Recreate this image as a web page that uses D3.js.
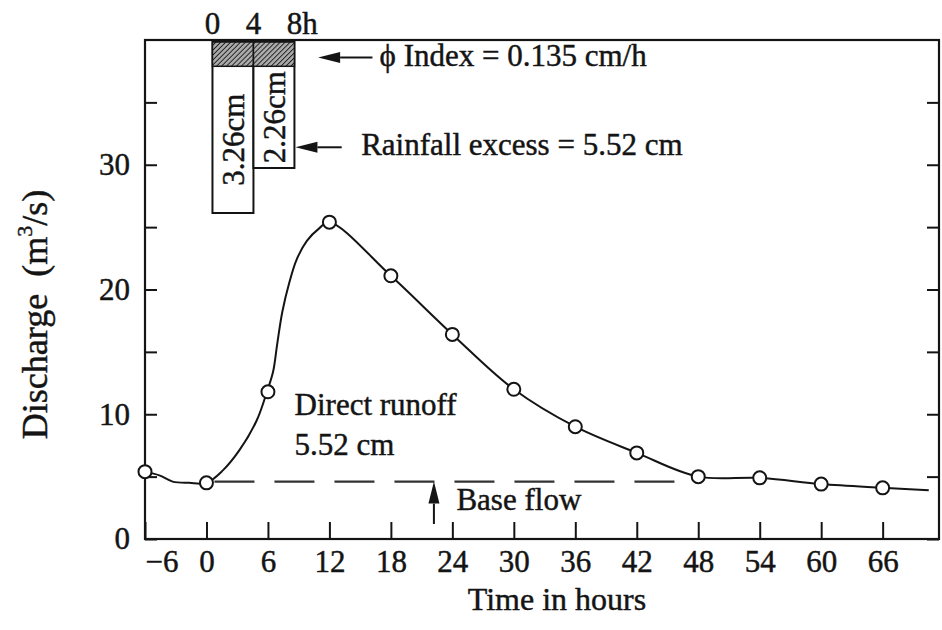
<!DOCTYPE html>
<html>
<head>
<meta charset="utf-8">
<script src="https://cdn.jsdelivr.net/npm/d3@7"></script>
<style>
  body { margin: 0; background: #fff; }
  svg { display: block; font-family: "Liberation Serif", "Times New Roman", serif; }
  svg text { stroke: #141414; stroke-width: 0.45px; }
</style>
</head>
<body>
<svg id="chart"></svg>
<script>
const width = 942, height = 630;

// observed hydrograph ordinates (circles), every 6 h
const hours = [-6, 0, 6, 12, 18, 24, 30, 36, 42, 48, 54, 60, 66];
const discharge = [5.4, 4.5, 11.8, 25.4, 21.1, 16.4, 12.0, 9.0, 6.9, 5.0, 4.9, 4.4, 4.1];

// the drawn hydrograph curve
const curveHours = [-6, -4.6, -3.3, -1.7, 0, 1.6, 3.2, 4.9, 5.9, 6.5, 6.9, 7.4, 8.1, 8.8, 9.8, 11.0, 12, 18, 24, 30, 36, 42, 48, 54, 60, 66, 70.5];
const curveQ = [5.4, 5.1, 4.6, 4.5, 4.5, 5.5, 7.1, 9.5, 11.8, 13.4, 15.6, 18.2, 20.6, 22.4, 23.9, 24.9, 25.4, 21.1, 16.4, 12.0, 9.0, 6.9, 5.0, 4.9, 4.4, 4.1, 3.9];

const baseFlow = 4.6;
const baseFlowEnd = 48;

// hyetograph: two 4-h blocks
const rainStart = [0, 4];
const rainEnd = [4, 8];
const rainExcess = [3.26, 2.26];
const phiIndex = 0.135; // cm/h
const rainTicks = [0, 4, 8];

const xTicks = [-6, 0, 6, 12, 18, 24, 30, 36, 42, 48, 54, 60, 66];
const yTicks = [0, 5, 10, 15, 20, 25, 30, 35];

const margin = { top: 40, right: 3, bottom: 91, left: 145 };

const svg = d3.select("#chart").attr("width", width).attr("height", height);
svg.append("rect").attr("width", width).attr("height", height).attr("fill", "#fff");

const x = d3.scaleLinear().domain([-6, 71.5]).range([margin.left, width - margin.right]);
const y = d3.scaleLinear().domain([0, 40]).range([height - margin.bottom, margin.top]);

const ink = "#141414";
const fs = 31;

// hatching for the phi-index loss
const defs = svg.append("defs");
const pat = defs.append("pattern")
    .attr("id", "hatch").attr("patternUnits", "userSpaceOnUse")
    .attr("width", 3.5).attr("height", 3.5)
    .attr("patternTransform", "rotate(45)");
pat.append("rect").attr("width", 3.5).attr("height", 3.5).attr("fill", "#aaa");
pat.append("line").attr("x1", 0).attr("y1", 0).attr("x2", 0).attr("y2", 3.5)
    .attr("stroke", "#1a1a1a").attr("stroke-width", 1.8);

// line with a filled head at (x2, y2)
const arrow = (x1, y1, x2, y2) => {
    const a = Math.atan2(y2 - y1, x2 - x1);
    const len = 22, hw = 5.5;
    const bx = x2 - len * Math.cos(a), by = y2 - len * Math.sin(a);
    const g = svg.append("g");
    g.append("line")
        .attr("x1", x1).attr("y1", y1).attr("x2", bx).attr("y2", by)
        .attr("stroke", ink).attr("stroke-width", 2);
    g.append("path")
        .attr("d", `M${x2},${y2} L${bx - hw * Math.sin(a)},${by + hw * Math.cos(a)} L${bx + hw * Math.sin(a)},${by - hw * Math.cos(a)} Z`)
        .attr("fill", ink);
};

// axes (inward ticks)
const xAxis = g => g
    .attr("transform", `translate(0,${y(0)})`)
    .call(d3.axisBottom(x).tickValues(xTicks).tickSizeInner(-17).tickSizeOuter(0).tickPadding(11))
    .attr("font-family", null)
    .call(g => g.select(".domain").remove())
    .call(g => g.selectAll(".tick line").attr("stroke", ink).attr("stroke-width", 2))
    .call(g => g.selectAll(".tick text").attr("fill", ink).attr("font-size", fs)
        .attr("text-anchor", d => d < 0 ? "start" : "middle"));

const yAxis = g => g
    .attr("transform", `translate(${x(-6)},0)`)
    .call(d3.axisLeft(y).tickValues(yTicks).tickSizeInner(-12).tickSizeOuter(0).tickPadding(15)
        .tickFormat(d => d % 10 === 0 ? d : ""))
    .attr("font-family", null)
    .call(g => g.select(".domain").remove())
    .call(g => g.selectAll(".tick line").attr("stroke", ink).attr("stroke-width", 2))
    .call(g => g.selectAll(".tick text").attr("fill", ink).attr("font-size", fs));

const yAxisRight = g => g
    .attr("transform", `translate(${x(71.5)},0)`)
    .call(d3.axisRight(y).tickValues(yTicks).tickSizeInner(-12).tickSizeOuter(0).tickFormat(""))
    .call(g => g.select(".domain").remove())
    .call(g => g.selectAll(".tick line").attr("stroke", ink).attr("stroke-width", 2));

svg.append("g").call(xAxis);
svg.append("g").call(yAxis);
svg.append("g").call(yAxisRight);

// frame
svg.append("rect")
    .attr("x", x(-6)).attr("y", y(40))
    .attr("width", x(71.5) - x(-6)).attr("height", y(0) - y(40))
    .attr("fill", "none").attr("stroke", ink).attr("stroke-width", 2.2);

// axis titles
svg.append("text")
    .attr("x", (x(-6) + x(71.5)) / 2 + 15).attr("y", y(0) + 71)
    .attr("text-anchor", "middle").attr("font-size", fs + 1).attr("fill", ink)
    .text("Time in hours");

const yTitle = svg.append("text")
    .attr("transform", `translate(47,${(y(0) + y(40)) / 2 + 25}) rotate(-90)`)
    .attr("text-anchor", "middle").attr("font-size", 36).attr("fill", ink);
yTitle.append("tspan").text("Discharge");
yTitle.append("tspan").attr("dx", 17).text("(m");
yTitle.append("tspan").attr("font-size", 22).attr("dy", -15).text("3");
yTitle.append("tspan").attr("dy", 15).text("/s)");

// base flow (dashed)
svg.append("line")
    .attr("x1", x(0)).attr("x2", x(baseFlowEnd))
    .attr("y1", y(baseFlow)).attr("y2", y(baseFlow))
    .attr("stroke", "#333").attr("stroke-width", 2.2)
    .attr("stroke-dasharray", "40,20").attr("stroke-dashoffset", -8);

// hydrograph curve
const line = d3.line()
    .x((d, i) => x(curveHours[i]))
    .y(d => y(d))
    .curve(d3.curveCatmullRom.alpha(0.5));

svg.append("path")
    .datum(curveQ)
    .attr("d", line)
    .attr("fill", "none").attr("stroke", ink).attr("stroke-width", 2);

svg.append("g").selectAll("circle")
    .data(discharge)
    .join("circle")
    .attr("cx", (d, i) => x(hours[i]))
    .attr("cy", d => y(d))
    .attr("r", 6.5)
    .attr("fill", "#fff").attr("stroke", ink).attr("stroke-width", 2);

// hyetograph (hangs from the top of the frame)
const rainX = d3.scaleLinear().domain([0, 8]).range([x(0) + 6, x(8) + 6]);
const depth = d3.scaleLinear().domain([0, 4]).range([y(40) + 2, y(40) + 182]);
const loss = phiIndex * 4;

const hy = svg.append("g");
hy.selectAll("rect.bar")
    .data(rainExcess)
    .join("rect").attr("class", "bar")
    .attr("x", (d, i) => rainX(rainStart[i]))
    .attr("y", depth(0))
    .attr("width", (d, i) => rainX(rainEnd[i]) - rainX(rainStart[i]))
    .attr("height", d => depth(d + loss) - depth(0))
    .attr("fill", "#fff").attr("stroke", ink).attr("stroke-width", 2);

hy.selectAll("rect.loss")
    .data(rainExcess)
    .join("rect").attr("class", "loss")
    .attr("x", (d, i) => rainX(rainStart[i]))
    .attr("y", depth(0))
    .attr("width", (d, i) => rainX(rainEnd[i]) - rainX(rainStart[i]))
    .attr("height", depth(loss) - depth(0))
    .attr("fill", "url(#hatch)").attr("stroke", ink).attr("stroke-width", 1.5);

hy.selectAll("text.val")
    .data(rainExcess)
    .join("text").attr("class", "val")
    .attr("transform", (d, i) => `translate(${(rainX(rainStart[i]) + rainX(rainEnd[i])) / 2},${(depth(loss) + depth(d + loss)) / 2}) rotate(-90)`)
    .attr("text-anchor", "middle").attr("dy", "0.35em")
    .attr("font-size", fs).attr("fill", ink)
    .text(d => `${d.toFixed(2)}cm`);

hy.selectAll("text.rt")
    .data(rainTicks)
    .join("text").attr("class", "rt")
    .attr("x", d => rainX(d)).attr("dx", "-0.25em")
    .attr("y", y(40) - 6)
    .attr("font-size", fs).attr("fill", ink)
    .text((d, i) => i === rainTicks.length - 1 ? `${d}h` : d);

// annotations
arrow(x(16.2), y(38.6), x(10.9), y(38.6));
svg.append("text")
    .attr("x", x(16.9)).attr("y", y(37.9))
    .attr("font-size", fs).attr("fill", ink)
    .text("ϕ Index = 0.135 cm/h");

arrow(x(13.2), y(31.4), rainX(8) + 1, y(31.4));
svg.append("text")
    .attr("x", x(15.1)).attr("y", y(30.8))
    .attr("font-size", fs).attr("fill", ink)
    .text("Rainfall excess = 5.52 cm");

svg.append("text")
    .attr("x", x(8.6)).attr("y", y(9.9))
    .attr("font-size", fs).attr("fill", ink)
    .text("Direct runoff");
svg.append("text")
    .attr("x", x(8.6)).attr("y", y(6.7))
    .attr("font-size", fs).attr("fill", ink)
    .text("5.52 cm");

arrow(x(22.2), y(1.2), x(22.2), y(baseFlow));
svg.append("text")
    .attr("x", x(24.4)).attr("y", y(2.3))
    .attr("font-size", fs).attr("fill", ink)
    .text("Base flow");
</script>
</body>
</html>
